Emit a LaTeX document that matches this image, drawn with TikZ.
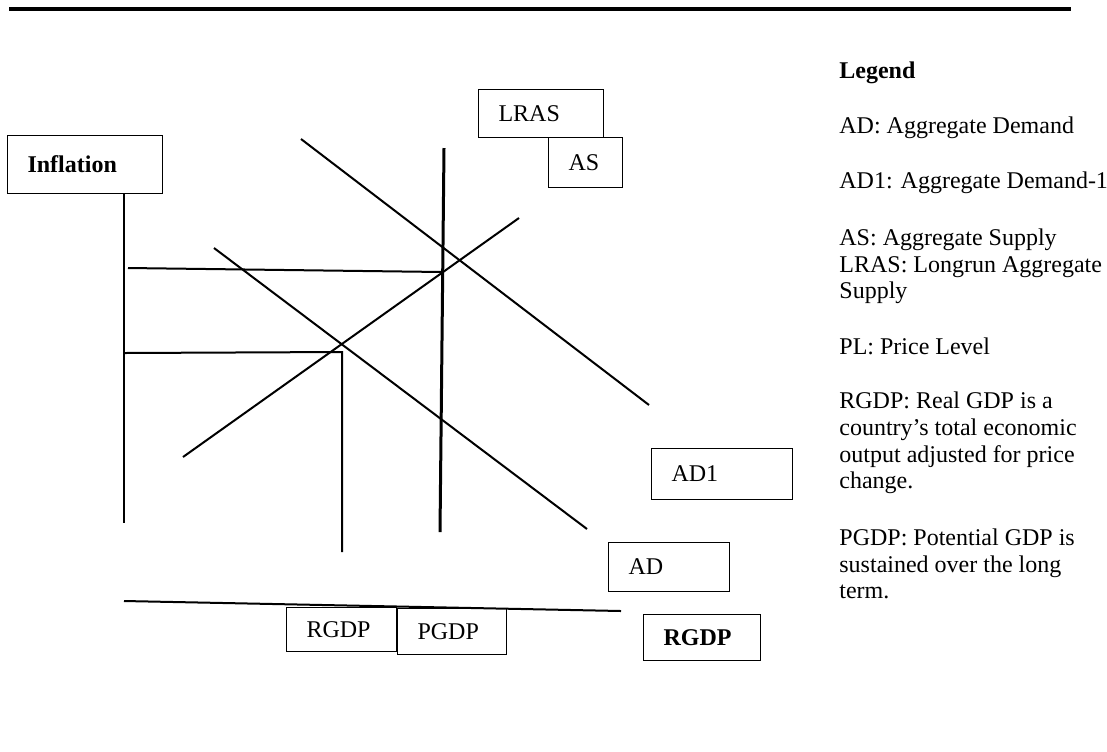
\documentclass[tikz,border=0pt]{standalone}
\usepackage{fontspec}
\setmainfont{Liberation Serif}
\begin{document}
\begin{tikzpicture}[x=0.5pt,y=-0.5pt,
  box/.style={draw, line width=0.5pt, anchor=north west, align=left,
    inner xsep=10pt, inner ysep=0pt, font=\fontsize{12}{13.8}\selectfont},
  curve/.style={line width=1pt},
  thickcurve/.style={line width=1.5pt},
  rule/.style={line width=2pt},
  leg/.style={anchor=base west, inner sep=0pt, font=\fontsize{12}{13.8}\selectfont}]
\useasboundingbox (0,0) rectangle (1107,751);

% top rule
\coordinate (t1) at (9,9);
\coordinate (t2) at (1071,9);
\draw[rule] (t1) -- (t2);

% boxes
\node[box, text width=57.5pt, minimum height=29pt] (infl) at (7,135) {\textbf{Inflation}};
\node[box, text width=42.5pt, minimum height=24pt] (lras) at (478,89) {LRAS};
\node[box, text width=17pt, minimum height=25pt] (as) at (548,137) {AS};
\node[box, text width=50.5pt, minimum height=25.5pt] (ad1) at (651,448) {AD1};
\node[box, text width=40.5pt, minimum height=24.5pt] (ad) at (608,542) {AD};
\node[box, text width=38.5pt, minimum height=23pt] (rgdpb) at (643,614) {\textbf{RGDP}};
\node[box, text width=35pt, minimum height=22pt] (rgdp) at (286,607) {RGDP};
\node[box, text width=34.5pt, minimum height=23pt] (pgdp) at (397,608) {PGDP};

% axes
\coordinate (ax1) at (124,193);
\coordinate (ax2) at (124,523);
\draw[curve] (ax1) -- (ax2);
\coordinate (bx1) at (124,601);
\coordinate (bx2) at (621,611);
\draw[curve] (bx1) -- (bx2);

% curves
\coordinate (lr1) at (444,148);
\coordinate (lr2) at (440,532);
\draw[thickcurve] (lr1) -- (lr2);
\coordinate (as1) at (183,457);
\coordinate (as2) at (519,218);
\draw[curve] (as1) -- (as2);
\coordinate (ad01) at (214,248);
\coordinate (ad02) at (587,529);
\draw[curve] (ad01) -- (ad02);
\coordinate (ad11) at (301,139);
\coordinate (ad12) at (649,405);
\draw[curve] (ad11) -- (ad12);

% guide lines
\coordinate (h1) at (128,268);
\coordinate (h2) at (442,272);
\draw[curve] (h1) -- (h2);
\coordinate (g1) at (124,353);
\coordinate (g2) at (342,352);
\coordinate (g3) at (342,552);
\draw[curve] (g1) -- (g2) -- (g3);

% legend
\node[leg] (legt) at (839,78) {\textbf{Legend}};
\node[leg] (l1) at (839,133) {AD: Aggregate Demand};
\node[leg] (l2) at (839,188) {AD1: Aggregate Demand-1};
\node[leg] (l3) at (839,245) {AS: Aggregate Supply};
\node[leg] (l4) at (839,272) {LRAS: Longrun Aggregate};
\node[leg] (l5) at (839,298) {Supply};
\node[leg] (l6) at (839,354) {PL: Price Level};
\node[leg] (l7) at (839,408) {RGDP: Real GDP is a};
\node[leg] (l8) at (839,435) {country’s total economic};
\node[leg] (l9) at (839,462) {output adjusted for price};
\node[leg] (l10) at (839,488) {change.};
\node[leg] (l11) at (839,545) {PGDP: Potential GDP is};
\node[leg] (l12) at (839,572) {sustained over the long};
\node[leg] (l13) at (839,598) {term.};
\end{tikzpicture}
\end{document}
